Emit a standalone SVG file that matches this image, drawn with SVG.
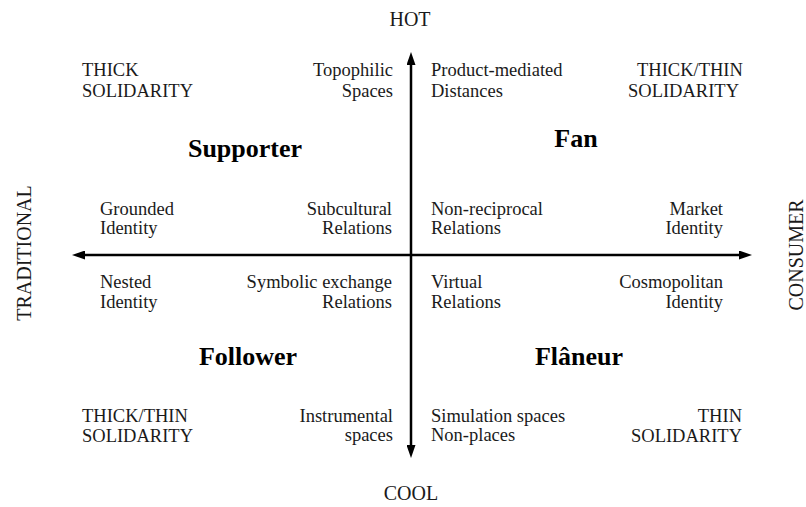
<svg xmlns="http://www.w3.org/2000/svg" width="806" height="507" viewBox="0 0 806 507">
<style>
  text { font-family: "Liberation Serif", "Times New Roman", serif; fill: #1a1a1a; }
  .t { font-size: 18.5px; }
  .ax { font-size: 20px; }
  .q { font-size: 26px; font-weight: bold; text-anchor: middle; fill: #000; }
  .r { text-anchor: end; }
  .axis { stroke: #000; stroke-width: 2.5; fill: none; marker-start: url(#ah); marker-end: url(#ah); }
</style>
<defs>
  <marker id="ah" viewBox="0 0 13 9" refX="5" refY="4.5" markerWidth="13" markerHeight="9" markerUnits="userSpaceOnUse" orient="auto-start-reverse">
    <path d="M0,0 L13,4.5 L0,9 z" fill="#000"/>
  </marker>
</defs>
<rect width="806" height="507" fill="#fff"/>

<g id="connectors">
  <line class="axis" x1="411" y1="450" x2="411" y2="60"/>
  <line class="axis" x1="80" y1="255" x2="744" y2="255"/>
</g>

<g id="axis-hot"><text class="ax" x="410" y="26" text-anchor="middle">HOT</text></g>
<g id="axis-cool"><text class="ax" x="411" y="500" text-anchor="middle">COOL</text></g>
<g id="axis-traditional"><text class="ax" transform="translate(31,253) rotate(-90)" text-anchor="middle">TRADITIONAL</text></g>
<g id="axis-consumer"><text class="ax" transform="translate(803,255) rotate(-90)" text-anchor="middle">CONSUMER</text></g>

<g id="supporter"><text class="q" x="245" y="157">Supporter</text></g>
<g id="fan"><text class="q" x="576" y="147">Fan</text></g>
<g id="follower"><text class="q" x="248" y="365">Follower</text></g>
<g id="flaneur"><text class="q" x="579" y="365">Flâneur</text></g>

<g id="tl-solidarity"><text class="t" x="82" y="76">THICK</text><text class="t" x="82" y="97">SOLIDARITY</text></g>
<g id="topophilic"><text class="t r" x="393" y="76">Topophilic</text><text class="t r" x="393" y="97">Spaces</text></g>
<g id="product-mediated"><text class="t" x="431" y="76">Product-mediated</text><text class="t" x="431" y="97">Distances</text></g>
<g id="tr-solidarity"><text class="t" x="637" y="76">THICK/THIN</text><text class="t" x="628" y="97">SOLIDARITY</text></g>

<g id="grounded"><text class="t" x="100" y="215">Grounded</text><text class="t" x="100" y="234">Identity</text></g>
<g id="subcultural"><text class="t r" x="392" y="215">Subcultural</text><text class="t r" x="392" y="234">Relations</text></g>
<g id="non-reciprocal"><text class="t" x="431" y="215">Non-reciprocal</text><text class="t" x="431" y="234">Relations</text></g>
<g id="market"><text class="t r" x="723" y="215">Market</text><text class="t r" x="723" y="234">Identity</text></g>

<g id="nested"><text class="t" x="100" y="288">Nested</text><text class="t" x="100" y="308">Identity</text></g>
<g id="symbolic"><text class="t r" x="392" y="288">Symbolic exchange</text><text class="t r" x="392" y="308">Relations</text></g>
<g id="virtual"><text class="t" x="431" y="288">Virtual</text><text class="t" x="431" y="308">Relations</text></g>
<g id="cosmopolitan"><text class="t r" x="723" y="288">Cosmopolitan</text><text class="t r" x="723" y="308">Identity</text></g>

<g id="bl-solidarity"><text class="t" x="82" y="422">THICK/THIN</text><text class="t" x="82" y="442">SOLIDARITY</text></g>
<g id="instrumental"><text class="t r" x="393" y="422">Instrumental</text><text class="t r" x="393" y="441">spaces</text></g>
<g id="simulation"><text class="t" x="431" y="422">Simulation spaces</text><text class="t" x="431" y="441">Non-places</text></g>
<g id="br-solidarity"><text class="t r" x="742" y="422">THIN</text><text class="t r" x="742" y="442">SOLIDARITY</text></g>
</svg>
